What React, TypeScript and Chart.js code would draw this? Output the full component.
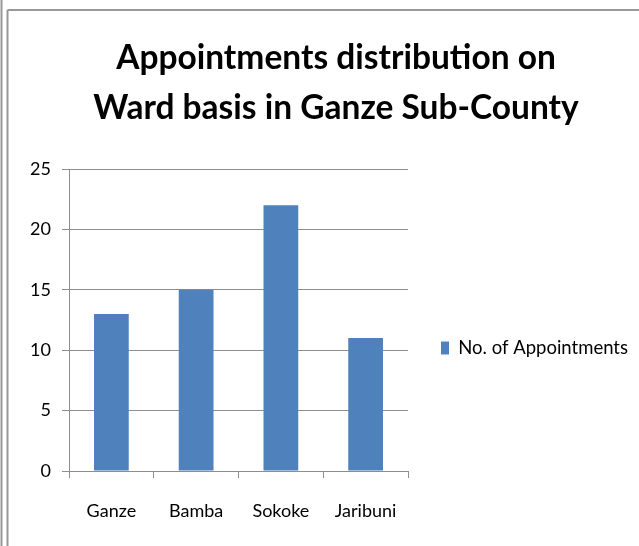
import React, { useEffect, useRef } from "react";
import { Chart, registerables } from "chart.js";

Chart.register(...registerables);

// ---- data ----
const categories: string[] = ["Ganze", "Bamba", "Sokoke", "Jaribuni"];
const appointments: number[] = [13, 15, 22, 11];
const seriesName = "No. of Appointments";
const titleLines: string[] = ["Appointments distribution on", "Ward basis in Ganze Sub-County"];
const yMin = 0;
const yMax = 25;
const yStep = 5;

// ---- layout / style ----
const W = 639;
const H = 546;
const FONT = 'Lato, "Liberation Sans", sans-serif';
const BAR_COLOR = "#4F81BD";
const GRID = "#8E8E8E";
const LEGEND_BOX_W = 8;
const LEGEND_BOX_H = 13;
const PLOT_LEFT = 69;
const PLOT_TOP = 169;
const PLOT_RIGHT = 408;
const PLOT_BOTTOM = 471;
const Y_AXIS_LEFT = 28;
const LEGEND_X = 441;
const LEGEND_TEXT_W = 168;
const TITLE_W1 = 442;
const TITLE_W2 = 477;
const TITLE_CX = 336;
const TITLE_Y = [58, 108];
const TICK_SIZE = 18;

const framePlugin = {
  id: "frame",
  beforeDraw(chart: any) {
    const ctx = chart.ctx;
    ctx.save();
    ctx.fillStyle = "#fff";
    ctx.fillRect(0, 0, chart.width, chart.height);
    ctx.strokeStyle = "#989898";
    ctx.lineWidth = 2;
    ctx.beginPath();
    ctx.moveTo(1.5, 0);
    ctx.lineTo(1.5, chart.height);
    ctx.moveTo(7.5, 10);
    ctx.lineTo(7.5, chart.height);
    ctx.moveTo(7.5, 10);
    ctx.lineTo(chart.width, 10);
    ctx.stroke();
    ctx.restore();
  },
};

function makeTitlePlugin(size: number) {
  return {
    id: "twoLineTitle",
    afterDraw(chart: any) {
      const ctx = chart.ctx;
      ctx.save();
      ctx.fillStyle = "#000";
      ctx.font = `bold ${size}px ${FONT}`;
      ctx.textAlign = "center";
      ctx.textBaseline = "middle";
      titleLines.forEach((line, i) => ctx.fillText(line, TITLE_CX, TITLE_Y[i]));
      ctx.restore();
    },
  };
}

export default function App() {
  const ref = useRef<HTMLCanvasElement>(null);

  useEffect(() => {
    const canvas = ref.current;
    if (!canvas) return;

    const m = document.createElement("canvas").getContext("2d")!;
    m.font = `100px ${FONT}`;
    const legendSize = Math.round((LEGEND_TEXT_W / m.measureText(seriesName).width) * 100 * 2) / 2;
    m.font = `${legendSize}px ${FONT}`;
    const tw = m.measureText(seriesName).width;
    m.font = `bold 100px ${FONT}`;
    const s1 = (TITLE_W1 / m.measureText(titleLines[0]).width) * 100;
    const s2 = (TITLE_W2 / m.measureText(titleLines[1]).width) * 100;
    const titleSize = Math.round(s1 + s2) / 2;

    const itemWidth = LEGEND_BOX_W + legendSize / 2 + tw;
    const legendPad = LEGEND_X - PLOT_RIGHT;
    const padR = Math.max(0, W - LEGEND_X - itemWidth - 10);

    const chart = new Chart(canvas, {
      type: "bar",
      data: {
        labels: categories,
        datasets: [
          {
            label: seriesName,
            data: appointments,
            backgroundColor: BAR_COLOR,
            borderWidth: 0,
            barPercentage: 0.41,
            categoryPercentage: 1,
          },
        ],
      },
      plugins: [framePlugin, makeTitlePlugin(titleSize)],
      options: {
        responsive: false,
        animation: false,
        devicePixelRatio: 1,
        layout: { padding: { left: Y_AXIS_LEFT, right: padR, top: PLOT_TOP, bottom: 0 } },
        plugins: {
          tooltip: { enabled: false },
          title: { display: false },
          legend: {
            display: true,
            position: "right",
            fullSize: false,
            align: "center",
            maxWidth: 400,
            title: {
              display: true,
              text: " ",
              font: { size: 10, lineHeight: 1 },
              padding: { top: 46, bottom: 0 },
            },
            labels: {
              boxWidth: LEGEND_BOX_W,
              boxHeight: LEGEND_BOX_H,
              padding: legendPad,
              color: "#000",
              font: { family: FONT, size: legendSize },
            },
          },
        },
        scales: {
          x: {
            offset: true,
            grid: {
              display: true,
              offset: true,
              drawOnChartArea: false,
              drawTicks: true,
              tickLength: 7,
              color: GRID,
            },
            border: { display: true, color: GRID },
            ticks: {
              color: "#000",
              padding: 22,
              font: { family: FONT, size: TICK_SIZE },
              maxRotation: 0,
            },
            afterFit(scale: any) {
              scale.height = H - PLOT_BOTTOM;
            },
          },
          y: {
            min: yMin,
            max: yMax,
            grid: {
              color: GRID,
              drawTicks: true,
              tickLength: 7,
            },
            border: { display: true, color: GRID },
            ticks: {
              stepSize: yStep,
              color: "#000",
              padding: 11,
              font: { family: FONT, size: TICK_SIZE },
            },
            afterFit(scale: any) {
              scale.width = PLOT_LEFT - Y_AXIS_LEFT;
            },
          },
        },
      },
    });

    return () => chart.destroy();
  }, []);

  return (
    <div style={{ position: "fixed", left: 0, top: 0, width: W, height: H, background: "#fff" }}>
      <canvas ref={ref} width={W} height={H} style={{ display: "block", width: W, height: H }} />
    </div>
  );
}
